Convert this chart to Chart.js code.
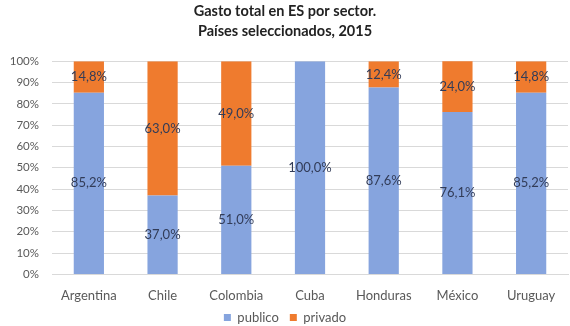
<!DOCTYPE html>
<html>
<head>
<meta charset="utf-8">
<script src="https://cdn.jsdelivr.net/npm/chart.js@4"></script>
<style>
  html, body { margin: 0; padding: 0; background: #fff; }
  #wrap { width: 570px; height: 326px; }
</style>
</head>
<body>
<div id="wrap"><canvas id="chart" width="570" height="326"></canvas></div>
<script>
// data
const paises = ["Argentina", "Chile", "Colombia", "Cuba", "Honduras", "México", "Uruguay"];
const publico = [85.2, 37.0, 51.0, 100.0, 87.6, 76.1, 85.2];
const privado = [14.8, 63.0, 49.0, 0, 12.4, 24.0, 14.8];
const yTicks = [0, 10, 20, 30, 40, 50, 60, 70, 80, 90, 100];

const fmt = v => v.toFixed(1).replace(".", ",") + "%";

/* simple data label plugin, centered in each segment */
const segmentLabels = {
    id: "segmentLabels",
    afterDatasetsDraw(chart) {
        const ctx = chart.ctx;
        ctx.save();
        ctx.font = "13px Lato";
        ctx.fillStyle = "#323c58";
        ctx.textAlign = "center";
        ctx.textBaseline = "middle";
        chart.data.datasets.forEach((ds, i) => {
            chart.getDatasetMeta(i).data.forEach((bar, j) => {
                const v = ds.data[j];
                if (!v) return;
                const mid = (bar.y + bar.base) / 2;
                ctx.fillText(fmt(v), bar.x, mid);
            });
        });
        ctx.restore();
    }
};

new Chart(document.getElementById("chart"), {
    type: "bar",
    data: {
        labels: paises,
        datasets: [
            { label: "publico", data: publico, backgroundColor: "#86a4de" },
            { label: "privado", data: privado, backgroundColor: "#ef7b2e" }
        ]
    },
    options: {
        responsive: false,
        animation: false,
        layout: { padding: { top: 2, right: 2, left: 2, bottom: -8 } },
        datasets: { bar: { categoryPercentage: 1, barPercentage: 0.41 } },
        plugins: {
            title: {
                display: true,
                text: ["Gasto total en ES por sector.", "Países seleccionados, 2015"],
                color: "#222",
                font: { family: "Lato", size: 14.5, weight: "bold", lineHeight: 1.35 },
                padding: { top: 0, bottom: 20 }
            },
            legend: {
                position: "bottom",
                labels: {
                    color: "#595959",
                    font: { family: "Lato", size: 13 },
                    boxWidth: 7,
                    boxHeight: 7,
                    padding: 1,
                    // widen the gap between the two items without growing the legend height
                    generateLabels: chart =>
                        Chart.defaults.plugins.legend.labels.generateLabels(chart).map((l, i) =>
                            i === 0 ? { ...l, text: l.text + "   " } : l)
                }
            },
            tooltip: { enabled: false }
        },
        scales: {
            x: {
                stacked: true,
                grid: { display: false },
                border: { color: "#d9d9d9" },
                ticks: { color: "#595959", font: { family: "Lato", size: 13 }, padding: 6 }
            },
            y: {
                stacked: true,
                min: 0,
                max: 100,
                afterBuildTicks: axis => { axis.ticks = yTicks.map(v => ({ value: v })); },
                afterFit: axis => { axis.width = 50; },
                grid: { color: "#d9d9d9", drawTicks: false },
                border: { display: false },
                ticks: {
                    color: "#595959",
                    font: { family: "Lato", size: 11.5 },
                    padding: 13,
                    callback: v => v + "%"
                }
            }
        }
    },
    plugins: [segmentLabels]
});
</script>
</body>
</html>
